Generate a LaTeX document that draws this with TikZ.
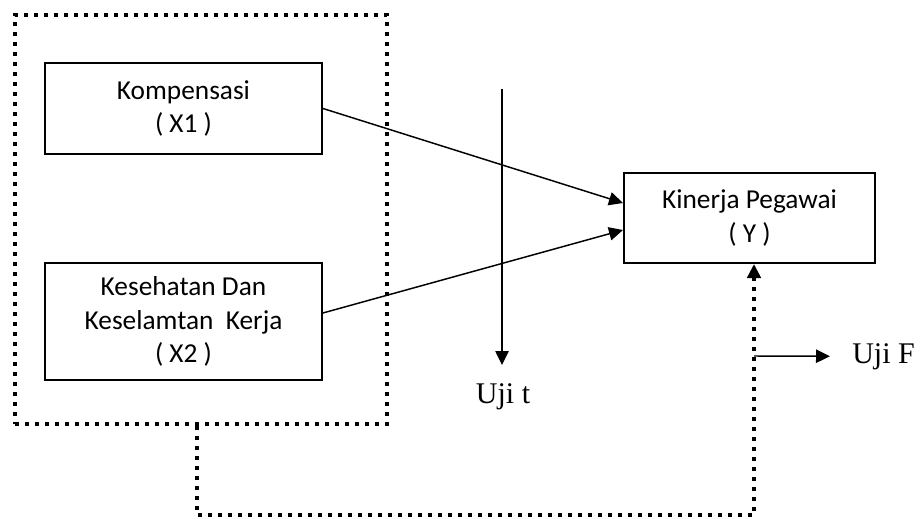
\documentclass[tikz,border=0pt]{standalone}
\usepackage{fontspec}
\setmainfont{Carlito}
\newfontfamily\timesfont{Liberation Serif}
\usetikzlibrary{arrows.meta}
\begin{document}
\begin{tikzpicture}[x=0.75pt,y=-0.75pt,
  boxnode/.style={draw, line width=1.5pt, align=center, inner sep=0pt,
    font=\fontsize{20.5}{25}\selectfont},
  dotline/.style={line width=3pt, dash pattern=on 3pt off 4.5pt},
  tip/.style={-{Triangle[length=10.5pt 0,width=10pt 0]}},
  arr/.style={line width=1.1pt, tip},
  lbl/.style={inner sep=0pt, font=\timesfont\fontsize{22.5}{26}\selectfont}]
\useasboundingbox (0,0) rectangle (917,517);
% boxes
\node[boxnode, minimum width=207.75pt, minimum height=68.25pt] (k) at (183.5,108.5) {Kompensasi\\( X1 )};
\node[boxnode, minimum width=207.75pt, minimum height=87.75pt] (x2) at (183.5,321.5) {Kesehatan Dan\\Keselamtan\ \ Kerja\\( X2 )};
\node[boxnode, minimum width=188.25pt, minimum height=67.5pt] (y) at (749.5,218) {Kinerja Pegawai\\( Y )};
% group
\node[draw, dotline, minimum width=279pt, minimum height=306.75pt, inner sep=0pt] (grp) at (201,219.5) {};
% arrows to Y
\draw[arr] (k.east) -- ([yshift=11.25pt]y.west);
\draw[arr] ([yshift=6.4pt]x2.east) -- ([yshift=-9pt]y.west);
% Uji t
\coordinate (t0) at (502,89);
\coordinate (t1) at (502,365);
\node[lbl, anchor=base] (ujit) at (503,403) {Uji t};
\draw[arr] (t0) -- (t1);
% dotted connector
\coordinate (b) at (754,515);
\draw[dotline, tip] ([xshift=-3pt]grp.south) |- (b) -- (y.south -| b);
% Uji F
\coordinate (f) at (754,356);
\node[lbl, anchor=base west] (ujif) at (852,363) {Uji F};
\draw[arr] (f) -- ([xshift=-16.5pt]ujif.west);
\end{tikzpicture}
\end{document}
